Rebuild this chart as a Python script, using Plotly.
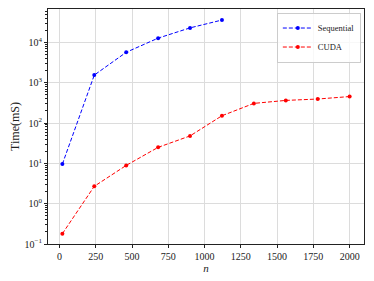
import plotly.graph_objects as go

# problem sizes
n_seq = [20, 240, 460, 680, 900, 1120]
n_cuda = [20, 240, 460, 680, 900, 1120, 1340, 1560, 1780, 2000]

# timings in ms
t_seq = [9.6, 1550, 5700, 12800, 23000, 36000]
t_cuda = [0.18, 2.7, 8.9, 25, 48, 152, 308, 365, 395, 455]

y_tickvals = [0.1, 1, 10, 100, 1000, 10000]
y_ticktext = ["10<sup>−1</sup>", "10<sup>0</sup>", "10<sup>1</sup>",
              "10<sup>2</sup>", "10<sup>3</sup>", "10<sup>4</sup>"]
x_tickvals = [0, 250, 500, 750, 1000, 1250, 1500, 1750, 2000]

minor_vals = [m * 10 ** e for e in range(-1, 5) for m in range(2, 10)]

font_family = "Liberation Serif"

fig = go.Figure()

fig.add_trace(go.Scatter(
    x=n_seq, y=t_seq, mode="lines+markers", name="Sequential",
    line=dict(color="#0000ff", width=1, dash="4px,2px"),
    marker=dict(color="#0000ff", size=4),
))

fig.add_trace(go.Scatter(
    x=n_cuda, y=t_cuda, mode="lines+markers", name="CUDA",
    line=dict(color="#ff0000", width=1, dash="4px,2px"),
    marker=dict(color="#ff0000", size=4),
))

axis_common = dict(
    showline=True, linecolor="#222", linewidth=1, mirror=True,
    showgrid=True, gridcolor="#dcdcdc", gridwidth=1,
    ticks="outside", ticklen=3, tickcolor="#222",
    zeroline=False, automargin=False,
    tickfont=dict(family=font_family, size=10, color="#222"),
)

# the page body has an 8px margin, so the figure is sized to fit inside it
fig.update_layout(
    width=366, height=273,
    margin=dict(l=40, r=10, t=1, b=37),
    paper_bgcolor="white", plot_bgcolor="white",
    font=dict(family=font_family, color="#222"),
    showlegend=True,
    legend=dict(
        x=0.99, y=0.985, xanchor="right", yanchor="top",
        bgcolor="rgba(255,255,255,0.8)", bordercolor="#ccc", borderwidth=1,
        font=dict(family=font_family, size=8.5),
        tracegroupgap=0, itemwidth=30,
    ),
    xaxis=dict(
        axis_common,
        range=[-79, 2099],
        tickvals=x_tickvals,
        title=dict(text="<i>n</i>", font=dict(family=font_family, size=11), standoff=2),
    ),
    yaxis=dict(
        axis_common,
        type="log",
        range=[-1, 4.83],
        tickvals=y_tickvals, ticktext=y_ticktext,
        minor=dict(tickvals=minor_vals, ticks="outside", ticklen=2,
                   tickcolor="#222", showgrid=False),
        title=dict(text="Time(mS)", font=dict(family=font_family, size=12), standoff=4),
    ),
)

fig.write_html("out.html")
